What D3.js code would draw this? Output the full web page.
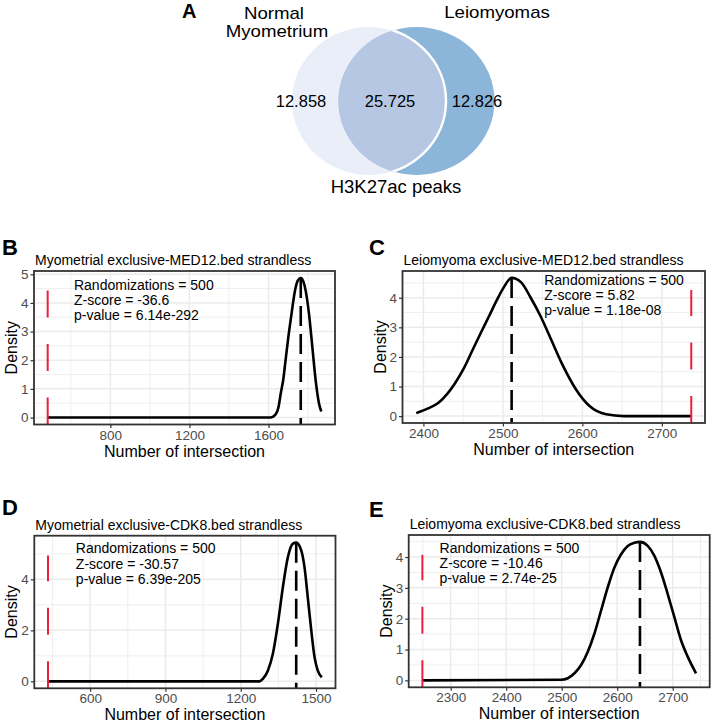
<!DOCTYPE html>
<html>
<head>
<meta charset="utf-8">
<script src="https://cdn.jsdelivr.net/npm/d3@7"></script>
<style>
  body { margin: 0; background: #fff; }
  svg { display: block; font-family: "Liberation Sans", Arial, sans-serif; }
</style>
</head>
<body>
<svg id="fig" width="714" height="727"></svg>
<script>
// ---- panel A: venn of H3K27ac peaks
const vennNames = [["Normal", "Myometrium"], ["Leiomyomas"]];
const vennCounts = ["12.858", "25.725", "12.826"];
const vennCaption = "H3K27ac peaks";

// ---- panel B: Myometrial exclusive-MED12
const bX = [483, 1611, 1635, 1650, 1662, 1674, 1687, 1700, 1716, 1733, 1748, 1763, 1776, 1788, 1805, 1822, 1839, 1855, 1867];
const bY = [0, 0, 0.10, 0.35, 0.85, 1.30, 2.05, 2.80, 3.60, 4.40, 4.78, 4.87, 4.75, 4.42, 3.60, 2.43, 1.26, 0.50, 0.21];
const bObs = 483, bMean = 1763, bRedTop = 4.44;
const bXTicks = [800, 1200, 1600];
const bYTicks = [0, 1, 2, 3, 4, 5];
const bStats = ["Randomizations = 500", "Z-score = -36.6", "p-value = 6.14e-292"];

// ---- panel C: Leiomyoma exclusive-MED12
const cX = [2391, 2405, 2419, 2430, 2440, 2451, 2462, 2472, 2483, 2492, 2500, 2511, 2523, 2535, 2547, 2559, 2576, 2592, 2609, 2630, 2652, 2737];
const cY = [0.10, 0.25, 0.45, 0.75, 1.12, 1.62, 2.24, 2.80, 3.40, 3.90, 4.30, 4.67, 4.52, 4.00, 3.40, 2.69, 1.68, 0.90, 0.34, 0.06, 0, 0];
const cObs = 2737, cMean = 2511, cRedTop = 4.26;
const cXTicks = [2400, 2500, 2600, 2700];
const cYTicks = [0, 1, 2, 3, 4];
const cStats = ["Randomizations = 500", "Z-score = 5.82", "p-value = 1.18e-08"];

// ---- panel D: Myometrial exclusive-CDK8
const dX = [432, 1275, 1288, 1308, 1328, 1348, 1368, 1388, 1408, 1421, 1441, 1454, 1467, 1481, 1494, 1507, 1523];
const dY = [0, 0, 0.10, 0.42, 1.08, 2.26, 3.70, 4.88, 5.40, 5.44, 5.14, 4.48, 3.30, 2.00, 0.95, 0.42, 0.16];
const dObs = 432, dMean = 1421, dRedTop = 4.94;
const dXTicks = [600, 900, 1200, 1500];
const dYTicks = [0, 2, 4];
const dStats = ["Randomizations = 500", "Z-score = -30.57", "p-value = 6.39e-205"];

// ---- panel E: Leiomyoma exclusive-CDK8
const eX = [2249, 2499, 2511, 2523, 2535, 2547, 2559, 2571, 2583, 2595, 2607, 2619, 2631, 2641, 2655, 2667, 2679, 2691, 2703, 2715, 2727, 2742];
const eY = [0, 0.02, 0.07, 0.23, 0.50, 0.93, 1.52, 2.27, 3.02, 3.66, 4.09, 4.36, 4.46, 4.49, 4.36, 4.04, 3.50, 2.80, 2.05, 1.30, 0.77, 0.23];
const eObs = 2249, eMean = 2641, eRedTop = 4.07;
const eXTicks = [2300, 2400, 2500, 2600, 2700];
const eYTicks = [0, 1, 2, 3, 4];
const eStats = ["Randomizations = 500", "Z-score = -10.46", "p-value = 2.74e-25"];

const svg = d3.select("#fig");
const defs = svg.append("defs");

// ---------- venn ----------
function drawVenn() {
    const L = { cx: 369, cy: 101, rx: 77, ry: 74 };
    const R = { cx: 416.5, cy: 101, rx: 78, ry: 74 };
    const ell = (sel, e) => sel.append("ellipse")
        .attr("cx", e.cx).attr("cy", e.cy).attr("rx", e.rx).attr("ry", e.ry);

    ell(defs.append("clipPath").attr("id", "clipR"), R);

    const g = svg.append("g");
    ell(g, L).attr("fill", "#e9eef8");
    ell(g, R).attr("fill", "#8cb5da");
    ell(g, L).attr("fill", "#b6c7e4").attr("clip-path", "url(#clipR)");
    ell(g, L).attr("fill", "none").attr("stroke", "#fff").attr("stroke-width", 2.5)
        .attr("clip-path", "url(#clipR)");

    g.append("text").attr("x", 182).attr("y", 18)
        .attr("font-size", 20).attr("font-weight", "bold").text("A");

    // set names (the figure's labels are a bit wide, so stretch them slightly)
    const name = (x, yy, s) => g.append("text")
        .attr("transform", `translate(${x},${yy}) scale(1.18,1)`)
        .attr("text-anchor", "middle").attr("font-size", 15.8).text(s);
    name(274, 18.5, vennNames[0][0]);
    name(277, 36.5, vennNames[0][1]);
    name(497, 18, vennNames[1][0]);

    const countX = [301, 390, 477];
    vennCounts.forEach((c, i) => {
        g.append("text").attr("x", countX[i]).attr("y", 107).attr("text-anchor", "middle")
            .attr("font-size", 16.5).text(c);
    });
    g.append("text").attr("x", 396).attr("y", 193).attr("text-anchor", "middle")
        .attr("font-size", 18.5).text(vennCaption);
}

// ---------- density panels ----------
const panels = [
    { letter: "B", lpos: [2, 255], title: "Myometrial exclusive-MED12.bed strandless",
      xs: bX, ys: bY, obs: bObs, mean: bMean, redTop: bRedTop, xticks: bXTicks, yticks: bYTicks,
      stats: bStats, note: [616, 4.45], box: { left: 34, top: 271, right: 335, bottom: 424.5 } },
    { letter: "C", lpos: [369, 255], title: "Leiomyoma exclusive-MED12.bed strandless",
      xs: cX, ys: cY, obs: cObs, mean: cMean, redTop: cRedTop, xticks: cXTicks, yticks: cYTicks,
      stats: cStats, note: [2552, 4.43], box: { left: 402.5, top: 271, right: 705, bottom: 423 } },
    { letter: "D", lpos: [2, 515], title: "Myometrial exclusive-CDK8.bed strandless",
      xs: dX, ys: dY, obs: dObs, mean: dMean, redTop: dRedTop, xticks: dXTicks, yticks: dYTicks,
      stats: dStats, note: [543, 5.02], box: { left: 34.3, top: 535.7, right: 335.5, bottom: 688.3 } },
    { letter: "E", lpos: [369, 517], title: "Leiomyoma exclusive-CDK8.bed strandless",
      xs: eX, ys: eY, obs: eObs, mean: eMean, redTop: eRedTop, xticks: eXTicks, yticks: eYTicks,
      stats: eStats, note: [2280, 4.14], box: { left: 408.7, top: 535, right: 709.7, bottom: 687.3 } }
];

function minors(ticks, domain) {
    const step = ticks[1] - ticks[0];
    const out = ticks.map(t => t - step / 2).concat([ticks[ticks.length - 1] + step / 2]);
    return out.filter(v => v > domain[0] && v < domain[1]);
}

function drawPanel(p) {
    const b = p.box;
    const xExt = d3.extent(p.xs.concat([p.obs]));
    const xPad = (xExt[1] - xExt[0]) * 0.05;
    const yMax = d3.max(p.ys);
    const yPad = yMax * 0.05;

    const x = d3.scaleLinear().domain([xExt[0] - xPad, xExt[1] + xPad]).range([b.left, b.right]);
    const y = d3.scaleLinear().domain([-yPad, yMax + yPad]).range([b.bottom, b.top]);

    const g = svg.append("g");

    // grid
    const grid = g.append("g");
    grid.selectAll(".mx").data(minors(p.xticks, x.domain())).enter().append("line")
        .attr("x1", d => x(d)).attr("x2", d => x(d)).attr("y1", b.top).attr("y2", b.bottom)
        .attr("stroke", "#ebebeb").attr("stroke-width", 0.8);
    grid.selectAll(".my").data(minors(p.yticks, y.domain())).enter().append("line")
        .attr("y1", d => y(d)).attr("y2", d => y(d)).attr("x1", b.left).attr("x2", b.right)
        .attr("stroke", "#ebebeb").attr("stroke-width", 0.8);
    grid.selectAll(".Mx").data(p.xticks).enter().append("line")
        .attr("x1", d => x(d)).attr("x2", d => x(d)).attr("y1", b.top).attr("y2", b.bottom)
        .attr("stroke", "#ebebeb").attr("stroke-width", 1.5);
    grid.selectAll(".My").data(p.yticks).enter().append("line")
        .attr("y1", d => y(d)).attr("y2", d => y(d)).attr("x1", b.left).attr("x2", b.right)
        .attr("stroke", "#ebebeb").attr("stroke-width", 1.5);

    // density curve
    const pts = p.xs.map((v, i) => [v, p.ys[i]]);
    const line = d3.line().x(d => x(d[0])).y(d => y(d[1])).curve(d3.curveMonotoneX);
    g.append("path").attr("d", line(pts))
        .attr("fill", "none").attr("stroke", "#000").attr("stroke-width", 2.6)
        .attr("stroke-linejoin", "round");

    // mean of permutations (dashed) and observed value (red)
    g.append("line")
        .attr("x1", x(p.mean)).attr("x2", x(p.mean))
        .attr("y1", y(yMax)).attr("y2", b.bottom)
        .attr("stroke", "#000").attr("stroke-width", 2.6).attr("stroke-dasharray", "20,8");
    g.append("line")
        .attr("x1", x(p.obs)).attr("x2", x(p.obs))
        .attr("y1", b.bottom).attr("y2", y(p.redTop))
        .attr("stroke", "#ee1f3c").attr("stroke-width", 2).attr("stroke-dasharray", "27,26.5");

    // stats text
    const t = g.append("text").attr("font-size", 14).attr("fill", "#000");
    p.stats.forEach((s, i) => {
        t.append("tspan").attr("x", x(p.note[0])).attr("y", y(p.note[1]) + i * 15.2).text(s);
    });

    // border
    g.append("rect").attr("x", b.left).attr("y", b.top)
        .attr("width", b.right - b.left).attr("height", b.bottom - b.top)
        .attr("fill", "none").attr("stroke", "#333").attr("stroke-width", 1.8);

    // axes
    const fmt = d3.format("d");
    const xAxis = d3.axisBottom(x).tickValues(p.xticks).tickFormat(fmt)
        .tickSize(3.5).tickSizeOuter(0).tickPadding(2);
    const yAxis = d3.axisLeft(y).tickValues(p.yticks).tickFormat(fmt)
        .tickSize(3.5).tickSizeOuter(0).tickPadding(2);
    const styleAxis = a => {
        a.select(".domain").remove();
        a.selectAll(".tick line").attr("stroke", "#333").attr("stroke-width", 1.2);
        a.selectAll(".tick text").attr("fill", "#4d4d4d").attr("font-size", 13.5)
            .attr("font-family", "Liberation Sans, Arial, sans-serif");
    };
    g.append("g").attr("transform", `translate(0,${b.bottom})`).call(xAxis).call(styleAxis);
    g.append("g").attr("transform", `translate(${b.left},0)`).call(yAxis).call(styleAxis);

    // axis titles
    g.append("text").attr("x", (b.left + b.right) / 2).attr("y", b.bottom + 32)
        .attr("text-anchor", "middle").attr("font-size", 16).text("Number of intersection");
    g.append("text")
        .attr("transform", `translate(${b.left - 17},${(b.top + b.bottom) / 2}) rotate(-90)`)
        .attr("text-anchor", "middle").attr("font-size", 16).text("Density");

    // title and panel letter
    g.append("text").attr("x", b.left + 1).attr("y", b.top - 6)
        .attr("font-size", 14).text(p.title);
    g.append("text").attr("x", p.lpos[0]).attr("y", p.lpos[1])
        .attr("font-size", 22).attr("font-weight", "bold").text(p.letter);
}

drawVenn();
panels.forEach(drawPanel);
</script>
</body>
</html>
